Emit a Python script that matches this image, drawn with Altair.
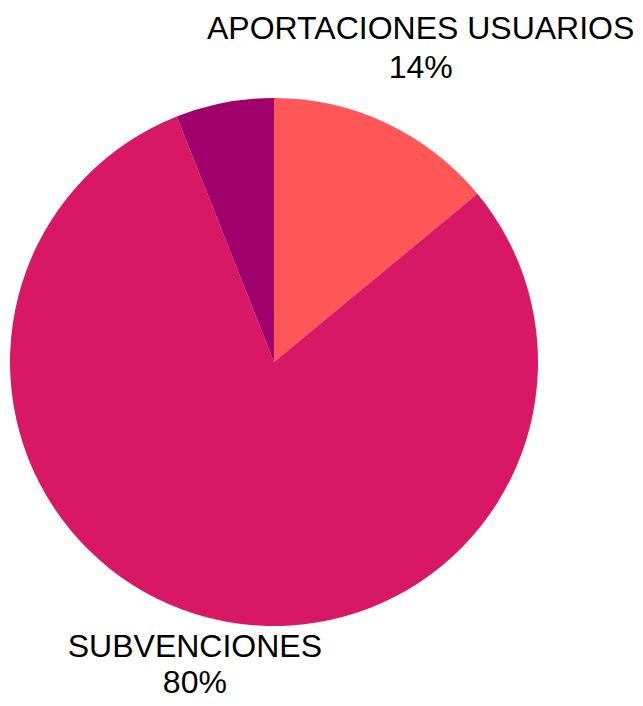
import altair as alt
import pandas as pd

categories = ["APORTACIONES USUARIOS", "SUBVENCIONES", "OTROS"]
values = [14, 80, 6]
colors = ["#FF5757", "#D81865", "#A0006B"]
order = [0, 1, 2]

df = pd.DataFrame({"cat": categories, "value": values, "ord": order})

base = alt.Chart(df).encode(
    theta=alt.Theta("value:Q", stack=True),
    order=alt.Order("ord:Q"),
)

pie = base.mark_arc(outerRadius=264, stroke=None).encode(
    color=alt.Color("cat:N", scale=alt.Scale(domain=categories, range=colors), legend=None)
)

def label_layer(name, r, dx, lh):
    return base.transform_calculate(
        lab=f"datum.cat == '{name}' ? [datum.cat, datum.value + '%'] : ''"
    ).mark_text(
        radius=r, dx=dx, font="Liberation Sans", fontSize=32, lineHeight=lh,
        align="center", baseline="middle", color="#000000"
    ).encode(text="lab:N")

chart = alt.layer(
    pie,
    label_layer("APORTACIONES USUARIOS", 368, -10, 39),
    label_layer("SUBVENCIONES", 294, -6, 36),
).properties(
    width=532, height=672,
    autosize=alt.AutoSizeParams(type="none"),
    padding={"left": 0, "top": 18, "right": 95, "bottom": 0},
).configure_view(stroke=None)

chart.save("out.html", embed_options={"renderer": "svg", "actions": False})
